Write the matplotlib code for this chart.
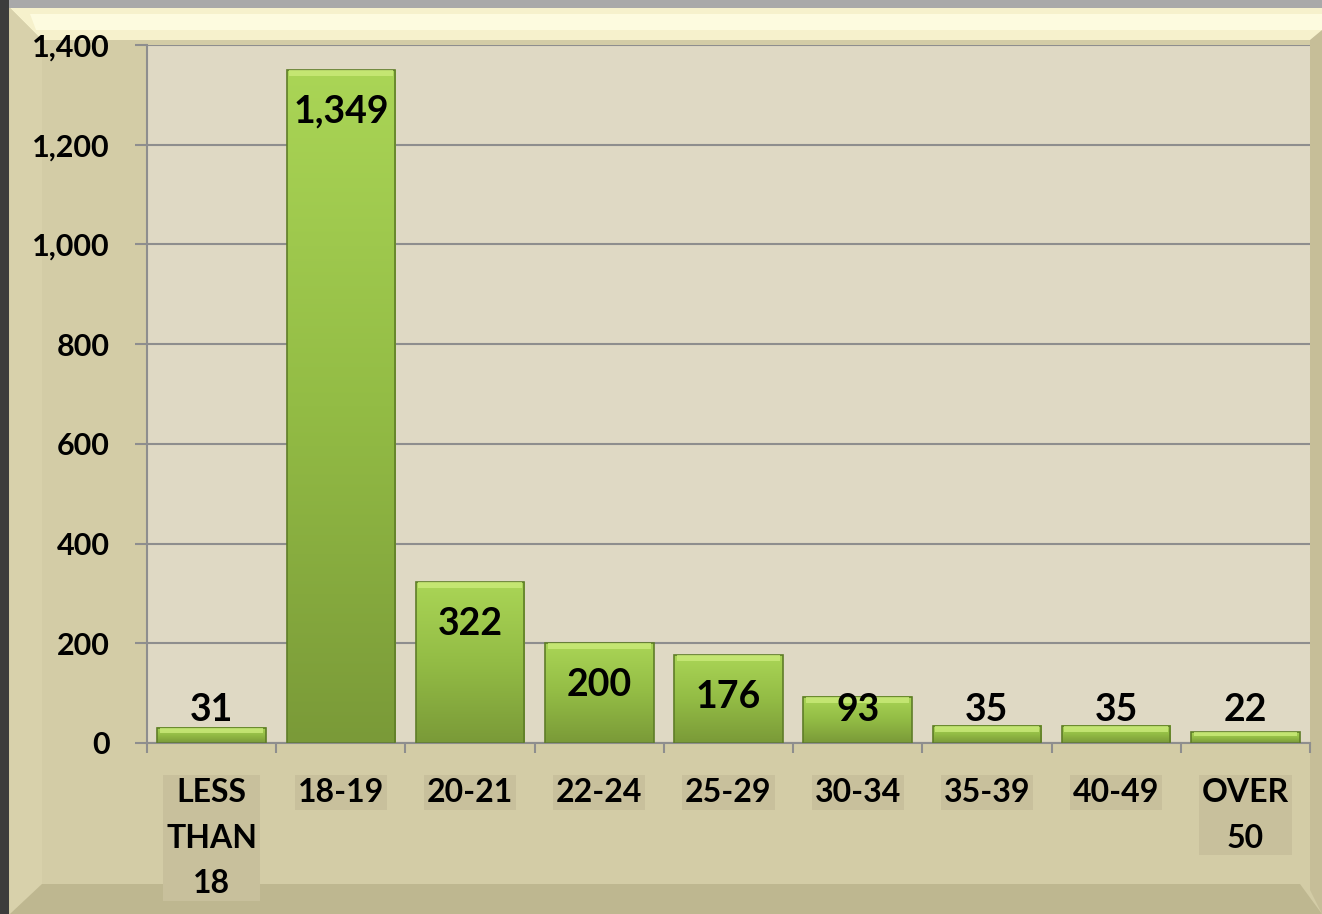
import numpy as np
import matplotlib.pyplot as plt
from matplotlib.patches import Polygon, Rectangle
from matplotlib.colors import LinearSegmentedColormap
from matplotlib.ticker import FuncFormatter

categories = ['LESS\nTHAN\n18', '18-19', '20-21', '22-24', '25-29',
              '30-34', '35-39', '40-49', 'OVER\n50']
counts = [31, 1349, 322, 200, 176, 93, 35, 35, 22]
y_ticks = [0, 200, 400, 600, 800, 1000, 1200, 1400]

plt.rcParams['font.family'] = ['Lato', 'DejaVu Sans']
plt.rcParams['font.weight'] = 'bold'

W, H = 1322, 914
fig = plt.figure(figsize=(W / 100, H / 100), dpi=100)
fig.patch.set_facecolor('#D3CCA6')


def frame_poly(pts, color):
    # pts in pixels, y measured from the top
    xy = [(x / W, 1 - y / H) for x, y in pts]
    fig.patches.append(Polygon(xy, closed=True, transform=fig.transFigure,
                               facecolor=color, edgecolor='none', zorder=-5))


# bevelled frame around the chart
frame_poly([(10, 8), (W, 8), (W, 40), (1300, 40), (42, 40)], '#F6F1CC')
frame_poly([(30, 14), (W, 14), (W, 30), (36, 30)], '#FDFBDF')
frame_poly([(10, 8), (42, 40), (42, 884), (10, 914)], '#D8D1AB')
frame_poly([(10, 914), (42, 884), (1300, 884), (W, 914)], '#BEB790')
frame_poly([(1310, 40), (W, 30), (W, 914), (1310, 890)], '#C6BE98')
frame_poly([(0, 0), (W, 0), (W, 8), (0, 8)], '#A9A9A9')
frame_poly([(0, 0), (9, 0), (9, H), (0, H)], '#3C3C3C')

ax = fig.add_axes([147 / W, 1 - 743 / H, (1310 - 147) / W, (743 - 45) / H])
ax.set_facecolor('#DFD9C4')

x = np.arange(len(categories))
bar_w = 0.84
green = LinearSegmentedColormap.from_list('g', ['#7A9A38', '#93BC45', '#AAD556'])
grad = np.linspace(0, 1, 256).reshape(-1, 1)

for xi, v in zip(x, counts):
    ax.imshow(grad, cmap=green, origin='lower', aspect='auto',
              extent=[xi - bar_w / 2, xi + bar_w / 2, 0, v], zorder=2)
    ax.add_patch(Rectangle((xi - bar_w / 2, 0), bar_w, v, facecolor='none',
                           edgecolor='#5F7D28', linewidth=1.2, zorder=3))
    top = min(12, v * 0.35)
    ax.add_patch(Rectangle((xi - bar_w / 2 + 0.02, v - top), bar_w - 0.04, top,
                           facecolor='#CBEB7A', edgecolor='none', alpha=0.8,
                           zorder=3))
    ax.text(xi, max(v - 105, 45), f'{v:,}', ha='center', va='baseline',
            fontsize=27, fontweight='bold', color='black', zorder=4)

ax.set_xlim(-0.5, len(categories) - 0.5)
ax.set_ylim(0, 1400)

ax.set_yticks(y_ticks)
ax.yaxis.set_major_formatter(FuncFormatter(lambda v, p: f'{int(v):,}'))
ax.tick_params(axis='y', length=9, width=1.5, color='#8E8E8E', pad=18,
               labelsize=22)
for lab in ax.get_yticklabels():
    lab.set_fontweight('bold')

ax.set_xticks(x)
ax.set_xticklabels(categories)
ax.set_xticks(np.arange(len(categories) + 1) - 0.5, minor=True)
ax.tick_params(axis='x', which='major', length=0, pad=25, labelsize=23)
ax.tick_params(axis='x', which='minor', length=7, width=1.5, color='#8E8E8E')
for lab in ax.get_xticklabels():
    lab.set_fontweight('bold')
    lab.set_linespacing(1.7)
    lab.set_verticalalignment('top')
    lab.set_bbox(dict(facecolor='#C8C09C', edgecolor='none', pad=2))

ax.yaxis.grid(True, color='#8E8E8E', linewidth=1.5)
ax.set_axisbelow(True)
for side in ['top', 'right']:
    ax.spines[side].set_visible(False)
for side in ['left', 'bottom']:
    ax.spines[side].set_color('#8E8E8E')
    ax.spines[side].set_linewidth(1.5)

plt.savefig('out.png', dpi=100, facecolor=fig.get_facecolor())
